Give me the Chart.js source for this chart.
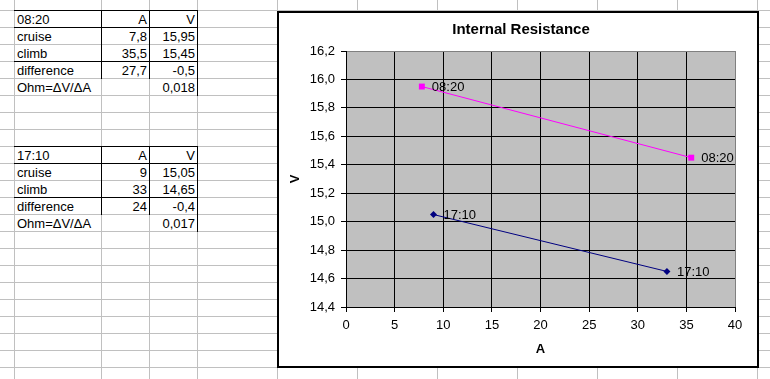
<!DOCTYPE html>
<html>
<head>
<meta charset="utf-8">
<script src="https://cdn.jsdelivr.net/npm/chart.js@4.4.0/dist/chart.umd.min.js"></script>
<style>
  html, body { margin: 0; padding: 0; background: #fff; overflow: hidden; }
  #sheet {
    position: relative; width: 770px; height: 379px;
    font-family: Arial, "Liberation Sans", sans-serif; font-size: 13px; color: #000;
  }
  .gl { position: absolute; background: #c0c0c0; }
  .bl { position: absolute; background: #000; }
  .cell { position: absolute; height: 13px; line-height: 13px; white-space: nowrap; }
  #chartBox { position: absolute; left: 277px; top: 11px; width: 482px; height: 357px; background: #fff; }
  #chartBox canvas { position: absolute; left: 0; top: 0; }
  #frame {
    position: absolute; left: 277px; top: 11px; width: 482px; height: 357px;
    border: 2px solid #000; box-sizing: border-box; pointer-events: none;
  }
</style>
</head>
<body>
<div id="sheet">
  <div id="chartBox"><canvas id="chartIR" width="482" height="357"></canvas></div>
  <div id="frame"></div>
</div>
<script>
// measurements: current (A) and voltage (V), cruise then climb
const SERIES_NAMES = ["08:20", "17:10"];
const AMPS_0820 = [7.8, 35.5];
const VOLTS_0820 = [15.95, 15.45];
const AMPS_1710 = [9, 33];
const VOLTS_1710 = [15.05, 14.65];
const ROW_NAMES = ["cruise", "climb", "difference", "Ohm=\u0394V/\u0394A"];

const X_MIN = 0, X_MAX = 40, X_STEP = 5;
const Y_MIN = 14.4, Y_MAX = 16.2, Y_STEP = 0.2;

const COLORS = {
  s0820: "#ff00ff",
  s1710: "#000080",
  plot: "#c0c0c0",
  edge: "#808080",
  sheetGrid: "#c0c0c0"
};

const FONT = "Arial, 'Liberation Sans', sans-serif";

// spreadsheet geometry
const COL_LINES = [14, 101, 149, 197, 277, 357, 437, 517, 597, 677, 757];
const ROW_H = 17;
const ROW0 = 10;

function comma(n, digits) {
  const s = digits == null ? String(n) : n.toFixed(digits);
  return s.replace(".", ",");
}

function fmt(n) {
  return comma(Math.round(n * 1000) / 1000);
}

const sheet = document.getElementById("sheet");
const chartBox = document.getElementById("chartBox");

function addDiv(cls, l, t, w, h, text, align) {
  const d = document.createElement("div");
  d.className = cls;
  d.style.left = l + "px";
  d.style.top = t + "px";
  if (w != null) d.style.width = w + "px";
  if (h != null && cls !== "cell") d.style.height = h + "px";
  if (text != null) { d.textContent = text; d.style.textAlign = align || "left"; }
  sheet.insertBefore(d, chartBox);
  return d;
}

function drawSheetGrid() {
  for (let y = ROW0; y < 379; y += ROW_H) addDiv("gl", 0, y, 770, 1);
  COL_LINES.forEach((x) => addDiv("gl", x, 0, 1, 379));
}

function drawTable(firstRow, name, amps, volts) {
  const top = ROW0 + firstRow * ROW_H;
  const dA = amps[1] - amps[0];
  const dV = volts[1] - volts[0];
  const rows = [
    [name, "A", "V"],
    [ROW_NAMES[0], comma(amps[0]), comma(volts[0])],
    [ROW_NAMES[1], comma(amps[1]), comma(volts[1])],
    [ROW_NAMES[2], fmt(dA), fmt(dV)],
    [ROW_NAMES[3], "", comma(Math.abs(dV / dA), 3)]
  ];

  rows.forEach((r, i) => {
    const base = top + (i + 1) * ROW_H - 14;
    addDiv("cell", 17, base, 80, null, r[0], "left");
    if (r[1]) addDiv("cell", 101, base, 46, null, r[1], "right");
    if (r[2]) addDiv("cell", 149, base, 46, null, r[2], "right");
  });

  // black cell borders
  [0, 1, 3].forEach((k) => addDiv("bl", 14, top + k * ROW_H, 184, 1));
  addDiv("bl", 101, top, 1, ROW_H * 4 + 1);
  addDiv("bl", 149, top, 1, ROW_H * 4 + 1);
  addDiv("bl", 197, top, 1, ROW_H * 5 + 1);
}

drawSheetGrid();
drawTable(0, SERIES_NAMES[0], AMPS_0820, VOLTS_0820);
drawTable(8, SERIES_NAMES[1], AMPS_1710, VOLTS_1710);

const plotBackground = {
  id: "plotBackground",
  beforeDraw(chart) {
    const { ctx, chartArea: a } = chart;
    ctx.save();
    ctx.fillStyle = "#fff";
    ctx.fillRect(0, 0, chart.width, chart.height);
    ctx.fillStyle = COLORS.plot;
    ctx.fillRect(a.left, a.top, a.right - a.left, a.bottom - a.top);
    ctx.restore();
  }
};

const pointLabels = {
  id: "pointLabels",
  afterDatasetsDraw(chart) {
    const { ctx } = chart;
    ctx.save();
    ctx.font = "13px " + FONT;
    ctx.fillStyle = "#000";
    ctx.textBaseline = "middle";
    ctx.textAlign = "left";
    chart.data.datasets.forEach((ds, i) => {
      chart.getDatasetMeta(i).data.forEach((pt) => {
        ctx.fillText(ds.label, pt.x + 10, pt.y + 1);
      });
    });
    ctx.restore();
  }
};

function toPoints(xs, ys) {
  return xs.map((x, i) => ({ x, y: ys[i] }));
}

const tickFont = { family: FONT, size: 13 };
const axisTitleFont = { family: FONT, size: 13, weight: "bold" };

new Chart(document.getElementById("chartIR"), {
  type: "scatter",
  data: {
    datasets: [
      {
        label: SERIES_NAMES[0],
        data: toPoints(AMPS_0820, VOLTS_0820),
        showLine: true,
        borderColor: COLORS.s0820,
        backgroundColor: COLORS.s0820,
        borderWidth: 1,
        pointStyle: "rect",
        pointRadius: 4.2,
        pointBorderWidth: 0
      },
      {
        label: SERIES_NAMES[1],
        data: toPoints(AMPS_1710, VOLTS_1710),
        showLine: true,
        borderColor: COLORS.s1710,
        backgroundColor: COLORS.s1710,
        borderWidth: 1,
        pointStyle: "rectRot",
        pointRadius: 3.5,
        pointBorderWidth: 0
      }
    ]
  },
  options: {
    responsive: false,
    animation: false,
    devicePixelRatio: 1,
    // left/right padding keep the chart title centred where Excel put it
    layout: { padding: { left: 30, right: 24, top: 0, bottom: 0 } },
    plugins: {
      legend: { display: false },
      tooltip: { enabled: false },
      title: {
        display: true,
        text: "Internal Resistance",
        color: "#000",
        font: { family: FONT, size: 15, weight: "bold" },
        padding: { top: 10, bottom: 12 }
      }
    },
    scales: {
      x: {
        type: "linear",
        min: X_MIN,
        max: X_MAX,
        ticks: { stepSize: X_STEP, color: "#000", font: tickFont, padding: 6, maxRotation: 0 },
        grid: {
          color: (c) => (c.tick && c.tick.value === X_MAX ? COLORS.edge : "#000"),
          tickColor: "#000",
          tickLength: 5
        },
        border: { color: "#000" },
        title: { display: true, text: "A", color: "#000", font: axisTitleFont, padding: { top: 0, bottom: 11 } },
        afterFit(s) { s.height = 61; }
      },
      y: {
        type: "linear",
        min: Y_MIN,
        max: Y_MAX,
        ticks: {
          stepSize: Y_STEP,
          color: "#000",
          font: tickFont,
          padding: 6,
          callback: (v) => comma(v, 1)
        },
        grid: {
          color: (c) => (c.tick && Math.abs(c.tick.value - Y_MAX) < 1e-6 ? COLORS.edge : "#000"),
          tickColor: "#000",
          tickLength: 5
        },
        border: { color: "#000" },
        title: { display: true, text: "V", color: "#000", font: axisTitleFont, padding: { top: -19.8, bottom: 0 } },
        afterFit(s) { s.width = 39; }
      }
    }
  },
  plugins: [plotBackground, pointLabels]
});
</script>
</body>
</html>
